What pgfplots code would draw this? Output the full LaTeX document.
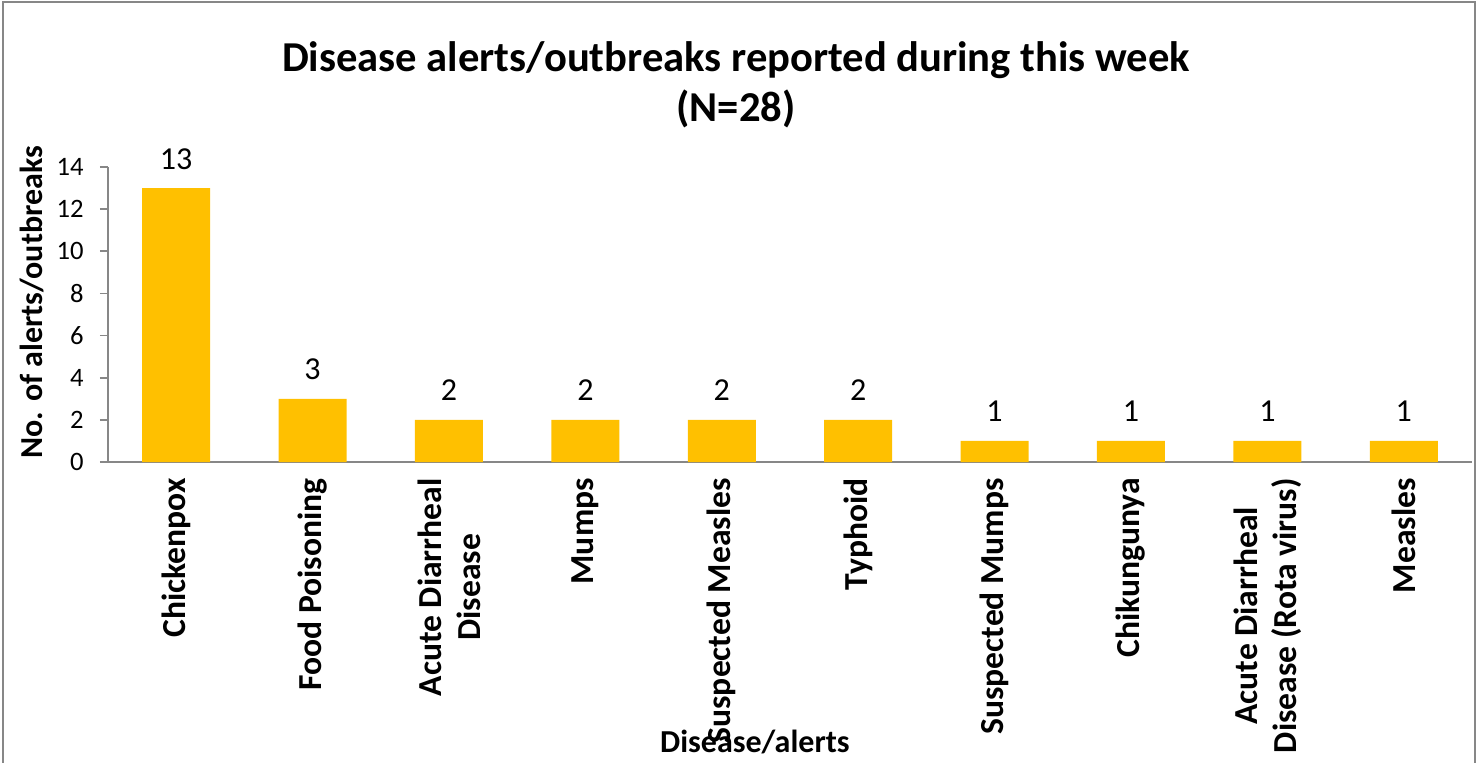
\documentclass[border=0pt]{standalone}
\usepackage{pgfplots}
\pgfplotsset{compat=1.18}
\usepackage{fontspec}
\setmainfont{Carlito}
\definecolor{bargold}{HTML}{FFC000}
\definecolor{axgray}{HTML}{878787}
\begin{document}
\begin{tikzpicture}[x=1pt,y=1pt]
\useasboundingbox (0,0) rectangle (740,381);
\draw[axgray, line width=0.8pt] (1.5,-5) rectangle (737.5,380);
\node[font=\fontsize{21.3}{26}\selectfont\bfseries, anchor=base] at (368,345) {Disease alerts/outbreaks reported during this week};
\node[font=\fontsize{21.3}{26}\selectfont\bfseries, anchor=base] at (368,320) {(N=28)};
\begin{axis}[
  at={(54pt,150pt)}, anchor=south west,
  scale only axis, width=682pt, height=147.5pt,
  xmin=-0.5, xmax=9.5, ymin=0, ymax=14,
  axis x line*=bottom, axis y line*=left,
  axis line style={axgray, line width=0.8pt},
  xtick={0,...,9},
  xticklabels={Chickenpox, Food Poisoning, {Acute Diarrheal\\Disease}, Mumps, Suspected Measles, Typhoid, Suspected Mumps, Chikungunya, {Acute Diarrheal\\Disease (Rota virus)}, Measles},
  xticklabel style={rotate=90, anchor=east, align=center, font=\fontsize{16.8}{19.5}\selectfont\bfseries, inner xsep=4pt, inner ysep=0pt},
  x tick style={draw=none},
  major tick length=4pt, tick align=outside,
  ytick={0,2,...,14},
  y tick style={axgray, line width=0.8pt},
  yticklabel style={font=\fontsize{13.3}{15}\selectfont, inner sep=0pt, xshift=-8pt},
  /pgf/number format/assume math mode=true,
  ylabel={No. of alerts/outbreaks},
  ylabel style={at={(axis description cs:-0.0557,0.542)}, anchor=center, rotate=0, font=\fontsize{16}{19}\selectfont\bfseries},
  xlabel={Disease/alerts},
  xlabel style={at={(axis description cs:0.4743,-0.949)}, anchor=center, font=\fontsize{16}{19}\selectfont\bfseries},
  ybar, bar width=34pt,
  nodes near coords,
  every node near coord/.append style={font=\fontsize{16}{19}\selectfont, anchor=base, yshift=9.5pt, inner sep=0pt, black},
  clip=false,
]
\addplot[fill=bargold, draw=none] coordinates {(0,13) (1,3) (2,2) (3,2) (4,2) (5,2) (6,1) (7,1) (8,1) (9,1)};
\end{axis}
\end{tikzpicture}
\end{document}
